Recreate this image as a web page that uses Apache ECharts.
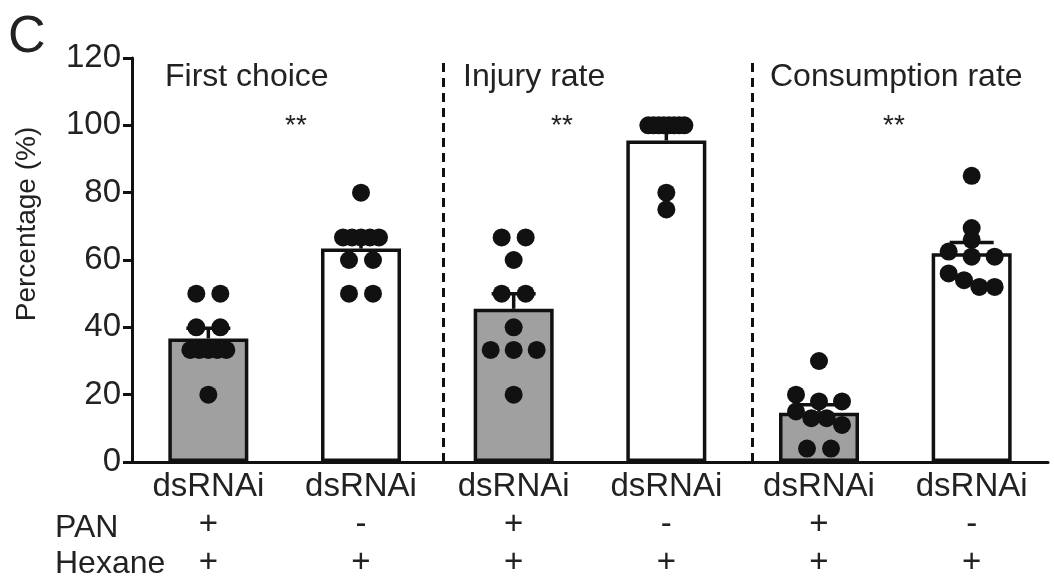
<!DOCTYPE html>
<html>
<head>
<meta charset="utf-8">
<script src="https://cdn.jsdelivr.net/npm/echarts@6/dist/echarts.min.js"></script>
<style>html,body{margin:0;padding:0;background:#fff}#c{width:1054px;height:582px}</style>
</head>
<body>
<div id="c"></div>
<script>
// ---------- data ----------
const categories = ['dsRNAi', 'dsRNAi', 'dsRNAi', 'dsRNAi', 'dsRNAi', 'dsRNAi'];
const panRow = ['+', '-', '+', '-', '+', '-'];
const hexaneRow = ['+', '+', '+', '+', '+', '+'];
const means = [36.7, 63.4, 45.5, 95.5, 14.6, 62.0];
const sems = [3.0, 2.8, 4.5, 2.8, 2.4, 3.2];
const firstChoicePan = [50, 50, 40, 40, 33.3, 33.3, 33.3, 33.3, 33.3, 20];
const firstChoiceCtrl = [80, 66.7, 66.7, 66.7, 66.7, 66.7, 60, 60, 50, 50];
const injuryPan = [66.7, 66.7, 60, 50, 50, 40, 33.3, 33.3, 33.3, 20];
const injuryCtrl = [100, 100, 100, 100, 100, 100, 100, 100, 80, 75];
const consumptionPan = [30, 20, 18, 18, 15, 13, 13, 11, 4, 4];
const consumptionCtrl = [85, 69.5, 66, 62.5, 61, 61, 56, 54, 52, 52];
const pointGroups = [firstChoicePan, firstChoiceCtrl, injuryPan, injuryCtrl, consumptionPan, consumptionCtrl];
const panelTitles = ['First choice', 'Injury rate', 'Consumption rate'];
const significance = ['**', '**', '**'];
const separators = [1.54, 3.56];
const yAxisTitle = 'Percentage (%)';

// ---------- layout ----------
const FONT = '"Liberation Sans", Arial, Helvetica, sans-serif';
const gridLeft = 132, gridRight = 6, gridTop = 58, gridBottom = 120;
const catPx = (1054 - gridLeft - gridRight) / categories.length;

// simple row-based beeswarm (layout only)
function swarm(values, idx) {
  const sorted = values.slice().sort((a, b) => b - a);
  const rows = [];
  sorted.forEach(v => {
    const last = rows[rows.length - 1];
    if (last && last[last.length - 1] - v <= 2.5) last.push(v); else rows.push([v]);
  });
  const out = [];
  rows.forEach(r => {
    const n = r.length;
    const sp = n > 1 ? Math.min(24, (n > 4 ? 36 : 46) / (n - 1)) : 0;
    r.forEach((v, i) => out.push([idx + ((i - (n - 1) / 2) * sp) / catPx, v]));
  });
  return out;
}
const scatterData = [];
pointGroups.forEach((g, i) => swarm(g, i).forEach(p => scatterData.push(p)));

const chart = echarts.init(document.getElementById('c'), null, {renderer: 'canvas'});
const lineColor = '#111';
const textColor = '#222';

function txt(x, y, text, size, align, extra) {
  return Object.assign({type: 'text', x, y, style: {
    text, font: size + 'px ' + FONT, fill: textColor,
    textAlign: align, align: align, textVerticalAlign: 'middle', verticalAlign: 'middle'
  }}, extra || {});
}

const option = {
  animation: false,
  backgroundColor: '#fff',
  grid: {left: gridLeft, right: gridRight, top: gridTop, bottom: gridBottom, containLabel: false},
  xAxis: [{
    type: 'category',
    data: categories,
    axisLine: {onZero: false, lineStyle: {color: lineColor, width: 3}},
    axisTick: {alignWithLabel: true, length: 9, lineStyle: {color: lineColor, width: 3}},
    axisLabel: {
      margin: 6, fontFamily: FONT, fontSize: 33, color: textColor, lineHeight: 38,
      formatter: (v, i) => v + '\n' + panRow[i] + '\n' + hexaneRow[i]
    }
  }, {
    type: 'value', min: -0.5, max: 5.5, show: false
  }],
  yAxis: {
    type: 'value', min: 0, max: 120, interval: 20,
    axisLine: {show: true, onZero: false, lineStyle: {color: lineColor, width: 3}},
    axisTick: {show: true, length: 9, lineStyle: {color: lineColor, width: 3}},
    axisLabel: {margin: 11, fontFamily: FONT, fontSize: 33, color: textColor},
    splitLine: {show: false}
  },
  series: [{
    type: 'bar',
    xAxisIndex: 0,
    data: means,
    barWidth: 80,
    z: 2,
    itemStyle: {
      color: p => (p.dataIndex % 2 === 0 ? '#a0a0a0' : '#ffffff'),
      borderColor: lineColor, borderWidth: 3.5
    }
  }, {
    type: 'custom',
    xAxisIndex: 0,
    z: 3,
    data: means.map((m, i) => [i, m, m + sems[i]]),
    renderItem: (params, api) => {
      const p0 = api.coord([api.value(0), api.value(1)]);
      const p1 = api.coord([api.value(0), api.value(2)]);
      const style = {stroke: lineColor, lineWidth: 3.5};
      return {type: 'group', children: [
        {type: 'line', shape: {x1: p0[0], y1: p0[1], x2: p1[0], y2: p1[1]}, style},
        {type: 'line', shape: {x1: p1[0] - 22, y1: p1[1], x2: p1[0] + 22, y2: p1[1]}, style}
      ]};
    }
  }, {
    type: 'scatter',
    xAxisIndex: 1,
    z: 4,
    symbol: 'circle',
    symbolSize: 18,
    itemStyle: {color: '#111', opacity: 1},
    data: scatterData,
    markLine: {
      silent: true, symbol: 'none', label: {show: false},
      lineStyle: {color: lineColor, width: 3, type: [9, 6]},
      data: separators.map(s => ({xAxis: s}))
    }
  }],
  graphic: [
    txt(8, 38, 'C', 52, 'left'),
    txt(27, 224, yAxisTitle, 28, 'center', {rotation: Math.PI / 2}),
    txt(165, 77, panelTitles[0], 32, 'left'),
    txt(463, 77, panelTitles[1], 32, 'left'),
    txt(770, 77, panelTitles[2], 32, 'left'),
    txt(296, 126, significance[0], 28, 'center'),
    txt(562, 126, significance[1], 28, 'center'),
    txt(894, 126, significance[2], 28, 'center'),
    txt(55, 528, 'PAN', 32, 'left'),
    txt(55, 564, 'Hexane', 32, 'left')
  ]
};
chart.setOption(option);
</script>
</body>
</html>
